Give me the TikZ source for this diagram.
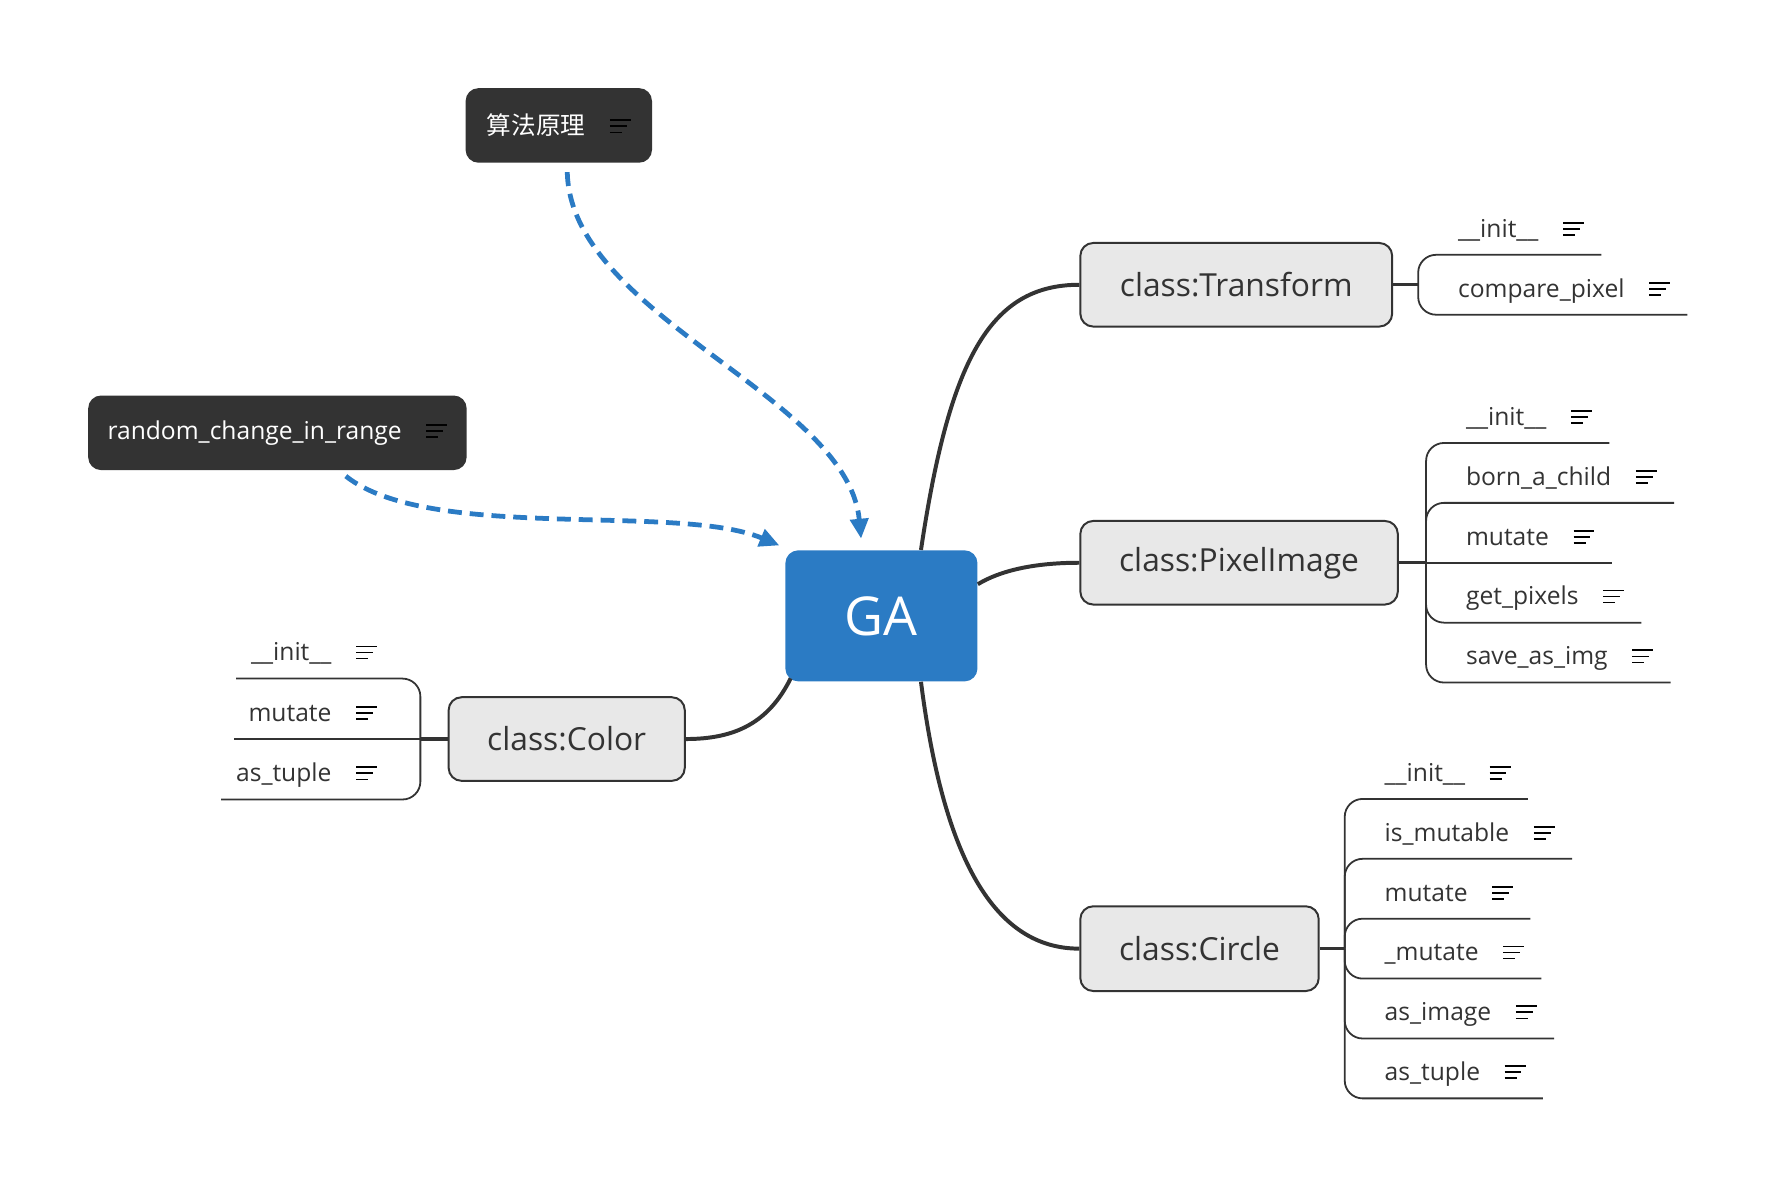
\documentclass[tikz,border=0pt]{standalone}
\usepackage{fontspec}
\setmainfont{Open Sans}
\newfontfamily\cjk{Noto Sans CJK SC}
\usetikzlibrary{arrows.meta,calc}
\definecolor{gablue}{HTML}{2B7BC4}
\definecolor{inkc}{HTML}{333333}
\definecolor{clsfill}{HTML}{E8E8E8}
% the little note mark after each label
\newcommand{\noteicon}{\hspace{1em}\raisebox{0.06em}{\vbox{\hrule width .85em height .075em \vskip .17em
  \hrule width .68em height .075em \vskip .17em \hrule width .49em height .075em}}}
\begin{document}
\begin{tikzpicture}[x=0.02cm, y=-0.02cm,
      topic/.style={fill=gablue, text=white, rounded corners=6.5pt, minimum width=3.4cm, minimum height=2.32cm, font=\fontsize{27}{32}\selectfont},
      cls/.style={draw=inkc, fill=clsfill, text=inkc, line width=1pt, rounded corners=6.5pt, minimum height=1.48cm, font=\fontsize{16}{19}\selectfont},
      memo/.style={fill=inkc, text=white, rounded corners=6.5pt, minimum height=1.32cm, font=\fontsize{12.4}{15}\selectfont, execute at end node=\noteicon},
      method/.style={inner xsep=0pt, inner ysep=5.6pt, text height=9.3pt, text depth=3.1pt, text=inkc, font=\fontsize{12.4}{15}\selectfont},
      ritem/.style={method, anchor=south west,
        execute at begin node=\hspace*{0.7cm}, execute at end node={\noteicon\hspace*{0.3cm}}},
      litem/.style={method, anchor=south east,
        execute at begin node=\hspace*{0.26cm}, execute at end node={\noteicon\hspace*{0.76cm}}},
      branch/.style={draw=inkc, line width=2pt},
      stem/.style={draw=inkc, line width=1.6pt},
      twig/.style={draw=inkc, line width=0.9pt, rounded corners=9pt},
      link/.style={draw=gablue, line width=2.4pt, dash pattern=on 7pt off 4pt, -{Triangle[length=10pt,width=9pt]}}
    ]
      \useasboundingbox (0,0) rectangle (1569,1050.4);
      % main topics
      \node[topic] (ga) at (780,545) {GA};
      \node[cls, minimum width=5.52cm] (trf) at (1094,252) {class:Transform};
      \node[cls, minimum width=5.62cm] (pix) at (1096.5,498) {class:PixelImage};
      \node[cls, minimum width=4.22cm, minimum height=1.5cm] (cir) at (1061.5,839.5) {class:Circle};
      \node[cls, minimum width=4.18cm] (col) at (501.5,654) {class:Color};
      \node[memo, minimum width=3.3cm] (algo) at (494.5,111) {{\cjk 算法原理}};
      \node[memo, minimum width=6.7cm] (rnd) at (245.5,383) {random\_change\_in\_range};

      % methods
      \coordinate (trfhub) at (1255,252);
      \coordinate (pixhub) at (1262,498);
      \coordinate (cirhub) at (1190,839.5);
      \coordinate (colhub) at (372,654);
      \foreach \txt [count=\k] in {\_\_init\_\_, compare\_pixel}
        \node[ritem] (trf\k) at (1255,{252+53*(\k-1.5)}) {\txt};
      \foreach \txt [count=\k] in {\_\_init\_\_, born\_a\_child, mutate, get\_pixels, save\_as\_img}
        \node[ritem] (pix\k) at (1262,{498+53*(\k-3)}) {\txt};
      \foreach \txt [count=\k] in {\_\_init\_\_, is\_mutable, mutate, \_mutate, as\_image, as\_tuple}
        \node[ritem] (cir\k) at (1190,{839.5+53*(\k-3.5)}) {\txt};
      \foreach \txt [count=\k] in {\_\_init\_\_, mutate, as\_tuple}
        \node[litem] (col\k) at (372,{654+53.5*(\k-2)}) {\txt};

      \draw[stem] (trf.east) -- (trfhub);
      \foreach \k in {1,2} \draw[twig] (trfhub) |- (trf\k.south east);
      \draw[stem] (pix.east) -- (pixhub);
      \foreach \k in {1,2,4,5} \draw[twig] (pixhub) |- (pix\k.south east);
      \draw[twig] (pixhub) -- (pix3.south east);
      \draw[stem] (cir.east) -- (cirhub);
      \foreach \k in {1,...,6} \draw[twig] (cirhub) |- (cir\k.south east);
      \draw[stem] (col.west) -- (colhub);
      \foreach \k in {1,3} \draw[twig] (colhub) |- (col\k.south west);
      \draw[twig] (colhub) -- (col2.south west);

      % branches
      \draw[branch] ($(ga.north)+(35,0)$) .. controls (840,320) and (875,252) .. (trf.west);
      \draw[branch] ($(ga.east)+(0,-28)$) .. controls (885,505) and (915,498) .. (pix.west);
      \draw[branch] ($(ga.south)+(35,0)$) .. controls (835,760) and (880,839.5) .. (cir.west);
      \draw[branch] ($(ga.south west)+(5,-3)$) .. controls (680,640) and (650,654) .. (col.east);

      % relations
      \draw[link] ($(algo.south)+(7.5,8)$) .. controls (505,280) and (750,350) .. ($(ga.north)+(-18,-10)$);
      \draw[link] ($(rnd.south)+(60.5,5)$) .. controls (380,480) and (600,445) .. ($(ga.north west)+(-5,-4)$);
    \end{tikzpicture}
\end{document}
